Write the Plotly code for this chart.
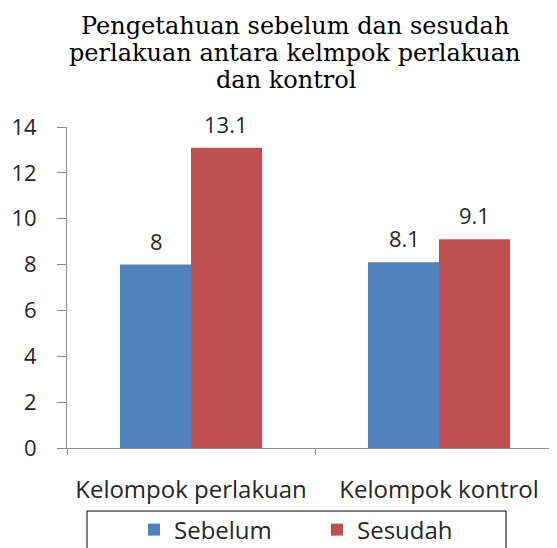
import plotly.graph_objects as go

categories = ["Kelompok perlakuan", "Kelompok kontrol"]
sebelum = [8, 8.1]
sesudah = [13.1, 9.1]
series_names = ["Sebelum", "Sesudah"]
y_ticks = [0, 2, 4, 6, 8, 10, 12, 14]
title_lines = ["Pengetahuan sebelum dan sesudah",
               "perlakuan antara kelmpok perlakuan",
               "dan kontrol"]

OFF = 8  # page body margin
W, H = 557 - OFF, 548 - OFF
# plot area in page pixels
PX0, PX1, PY0, PY1 = 67, 557, 127, 448
L, R, T, B = PX0 - OFF, 0, PY0 - OFF, H - (PY1 - OFF)
pw = W - L - R
ph = H - T - B


def px(x):  # page x -> paper
    return (x - PX0) / pw


def py(y):  # page y -> paper
    return (PY1 - y) / ph


BLUE = "#4F81BD"
RED = "#C0504D"
TXT = "#262626"
AX = "#8C8C8C"
SANS = "Open Sans"

fig = go.Figure()
fig.add_trace(go.Bar(x=categories, y=sebelum, name=series_names[0],
                     marker=dict(color=BLUE, line=dict(width=0))))
fig.add_trace(go.Bar(x=categories, y=sesudah, name=series_names[1],
                     marker=dict(color=RED, line=dict(width=0))))

# data labels
for vals, shift in ((sebelum, -35), (sesudah, 35)):
    for c, v in zip(categories, vals):
        fig.add_annotation(x=c, y=v, text=f"{v:g}", showarrow=False,
                           xshift=shift, yshift=24, yanchor="middle",
                           font=dict(family=SANS, size=22, color=TXT))

# title lines
for line, yc, xc in zip(title_lines, (26, 53, 80), (295, 295, 286)):
    fig.add_annotation(text=line, xref="paper", yref="paper",
                       x=px(xc), y=py(yc), xanchor="center", yanchor="middle",
                       showarrow=False,
                       font=dict(family="DejaVu Serif", size=24, color="#000000"))

# legend frame
fig.add_shape(type="rect", xref="paper", yref="paper",
              x0=px(87), x1=px(506), y0=py(511), y1=py(570),
              line=dict(color="#000000", width=1), fillcolor="rgba(0,0,0,0)")

fig.update_layout(
    width=W, height=H,
    margin=dict(l=L, r=R, t=T, b=B, autoexpand=False),
    paper_bgcolor="white", plot_bgcolor="white",
    barmode="group", bargap=0.427, bargroupgap=0,
    showlegend=True,
    legend=dict(orientation="h", x=px(134), xanchor="left",
                y=py(530), yanchor="middle",
                bgcolor="rgba(0,0,0,0)", borderwidth=0,
                entrywidth=138, font=dict(family=SANS, size=24, color=TXT)),
    xaxis=dict(range=[-0.5, -0.5 + pw / 248], showline=True, linecolor=AX,
               linewidth=1, ticks="outside", tickson="boundaries", ticklen=6,
               tickcolor=AX, showgrid=False, zeroline=False,
               ticklabelstandoff=20,
               tickfont=dict(family=SANS, size=24, color=TXT)),
    yaxis=dict(range=[0, 14], tickvals=y_ticks, showline=True, linecolor=AX,
               linewidth=1, ticks="outside", ticklen=9, tickcolor=AX,
               showgrid=False, zeroline=False, ticklabelstandoff=16,
               tickfont=dict(family=SANS, size=22, color=TXT)),
)

fig.write_html("out.html")
